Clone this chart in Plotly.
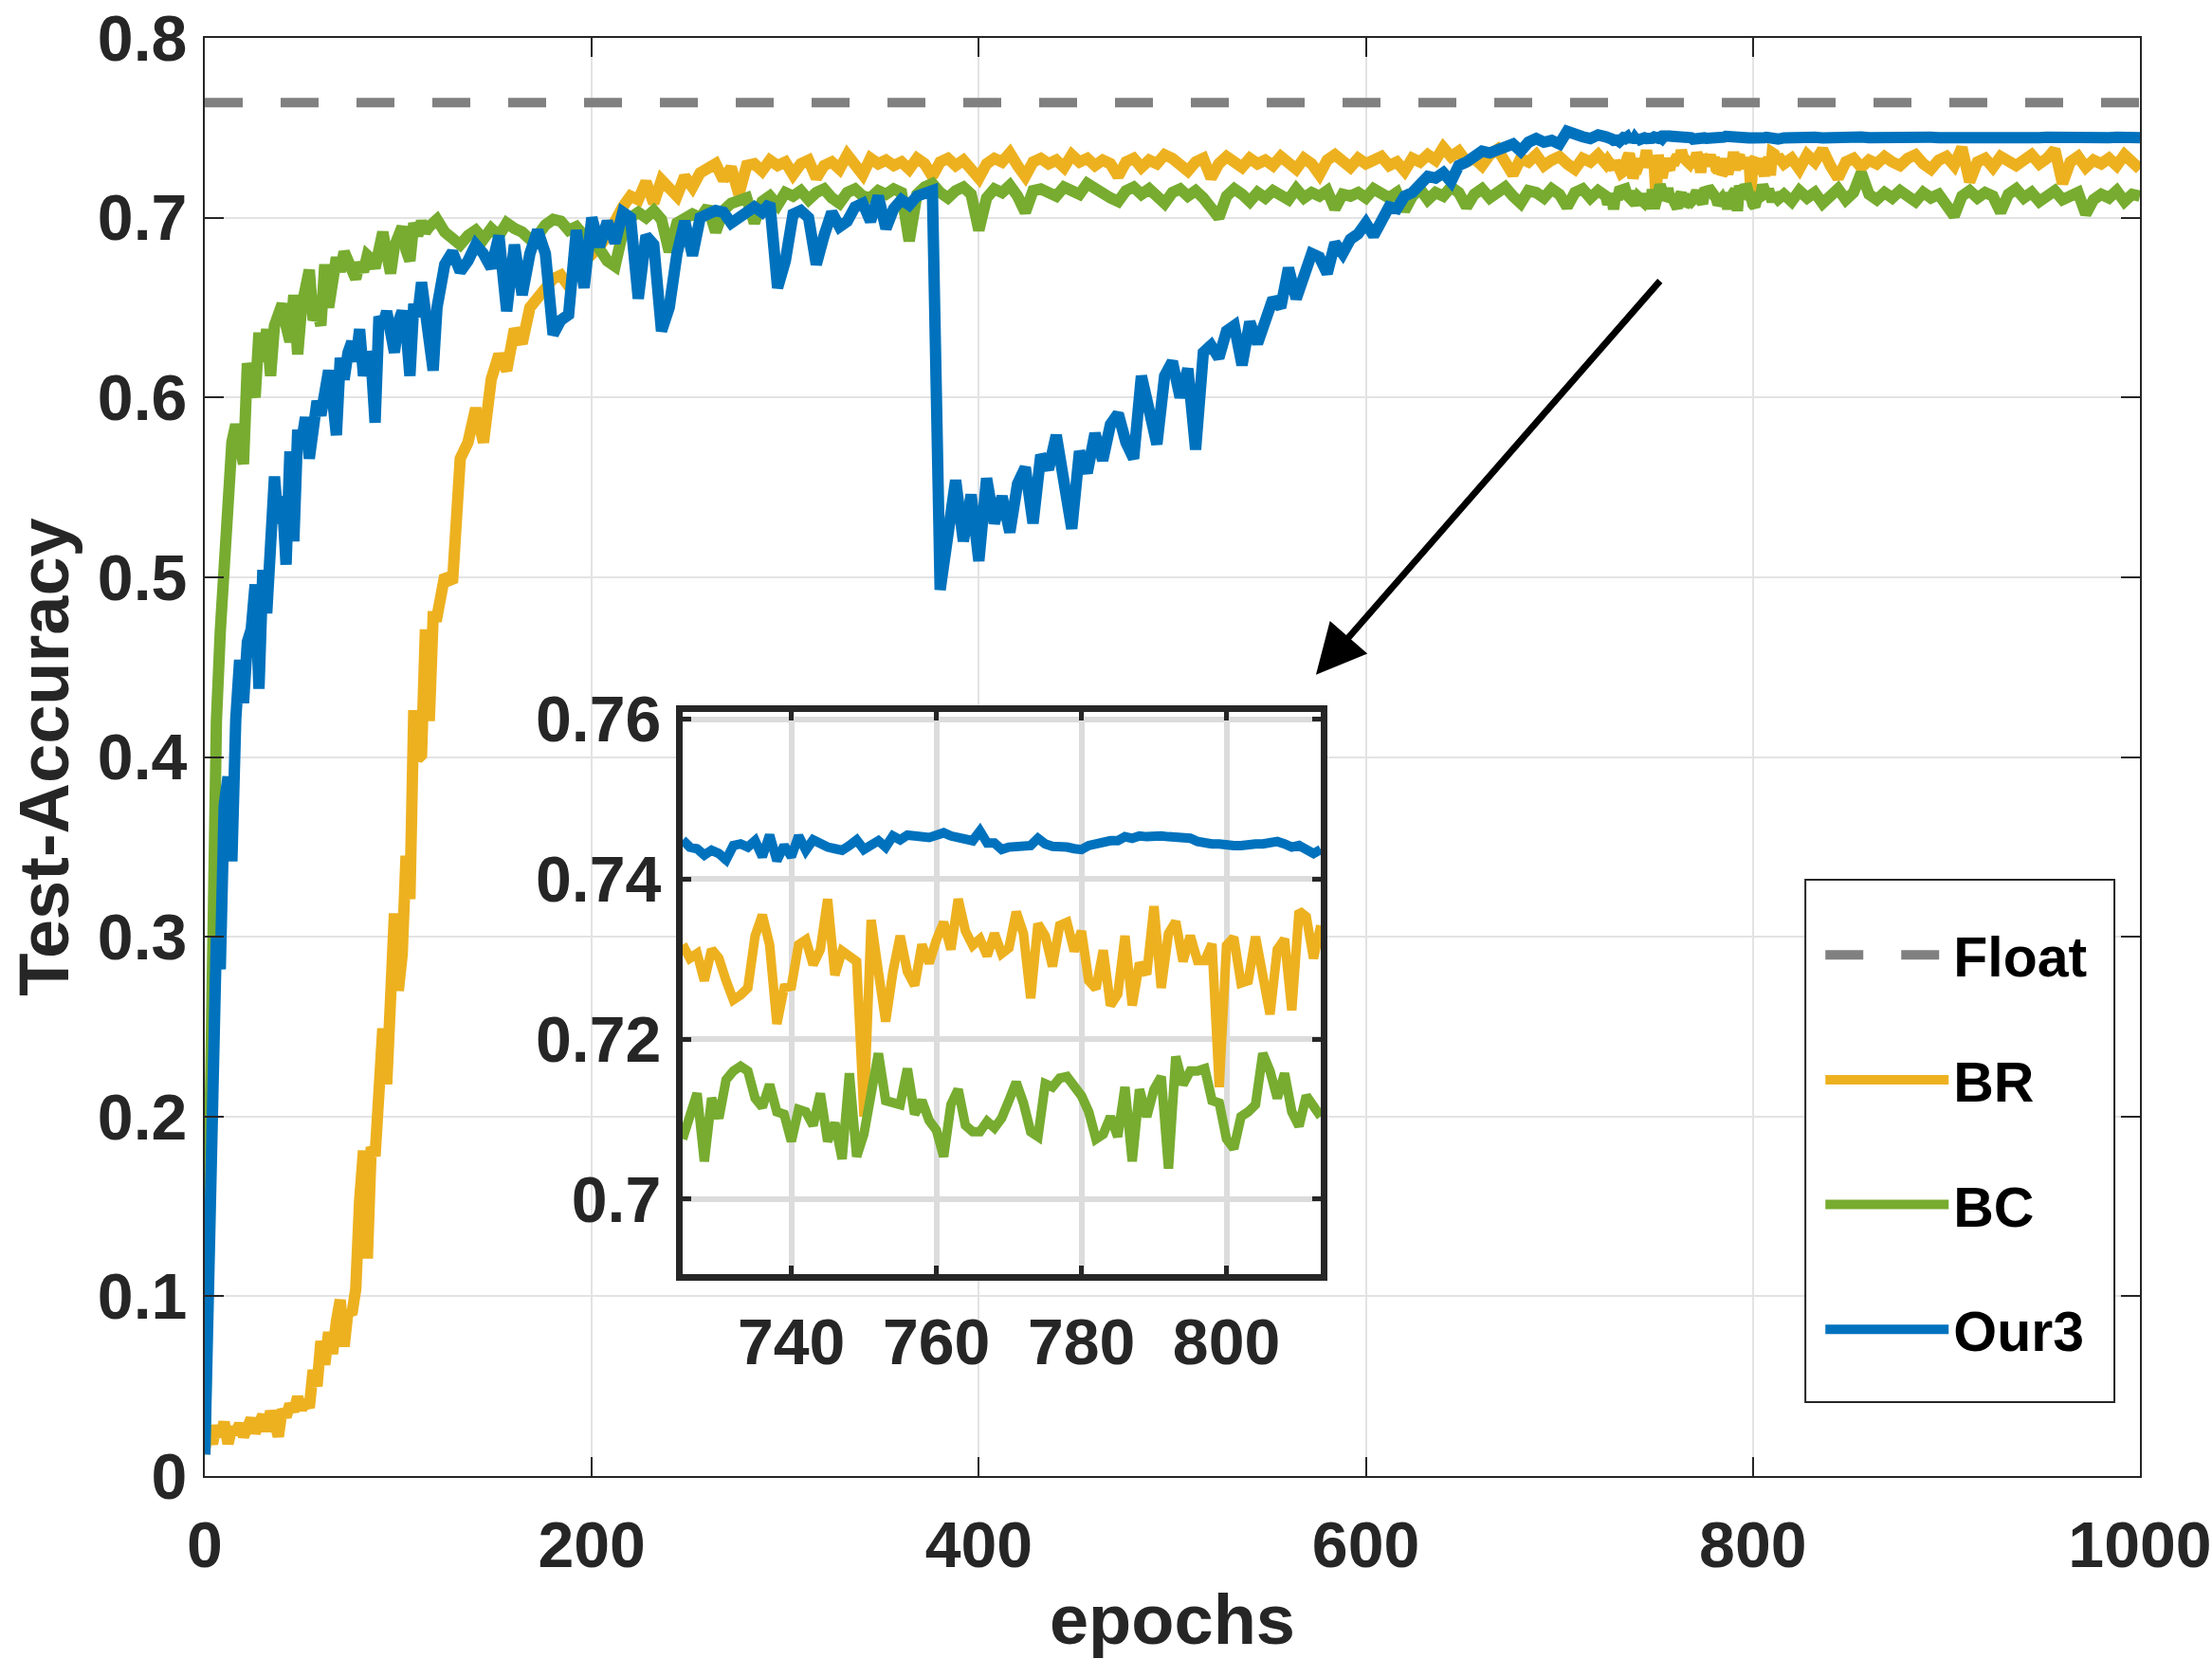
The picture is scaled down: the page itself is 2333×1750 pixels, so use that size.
import plotly.graph_objects as go

# epochs, split into stretches (the 725-813 stretch is also the zoomed window)
EPOCHS_A = list(range(0, 120, 2))
EPOCHS_B = list(range(120, 725, 4))
EPOCHS_C = list(range(725, 814))
EPOCHS_D = list(range(816, 1001, 4))

FLOAT_ACC = 0.764

# ---- BR ----
BR_A = [0.015, 0.025, 0.018, 0.028, 0.022, 0.030, 0.018, 0.027, 0.024, 0.029,
        0.022, 0.026, 0.032, 0.024, 0.028, 0.034, 0.025, 0.036, 0.030, 0.022,
        0.037, 0.033, 0.040, 0.036, 0.044, 0.037, 0.042, 0.038, 0.059, 0.050,
        0.075, 0.062, 0.080, 0.068, 0.086, 0.098, 0.072, 0.092, 0.090, 0.104,
        0.153, 0.181, 0.121, 0.183, 0.178, 0.205, 0.249, 0.218, 0.275, 0.313,
        0.270, 0.290, 0.345, 0.321, 0.426, 0.399, 0.401, 0.471, 0.420, 0.478]
BR_B = [0.478, 0.501, 0.497, 0.566, 0.575, 0.594, 0.575, 0.610, 0.624, 0.615,
        0.638, 0.630, 0.650, 0.655, 0.660, 0.666, 0.668, 0.662, 0.671, 0.675,
        0.678, 0.684, 0.690, 0.699, 0.706, 0.712, 0.710, 0.720, 0.708, 0.721,
        0.716, 0.712, 0.723, 0.717, 0.725, 0.727, 0.730, 0.721, 0.728, 0.713,
        0.729, 0.730, 0.726, 0.732, 0.729, 0.731, 0.724, 0.730, 0.732, 0.722,
        0.729, 0.731, 0.727, 0.735, 0.730, 0.724, 0.733, 0.730, 0.732, 0.729,
        0.731, 0.727, 0.733, 0.730, 0.723, 0.731, 0.733, 0.729, 0.732, 0.728,
        0.722, 0.730, 0.733, 0.731, 0.736, 0.729, 0.723, 0.731, 0.733, 0.730,
        0.732, 0.728, 0.735, 0.731, 0.733, 0.729, 0.732, 0.730, 0.723, 0.731,
        0.733, 0.728, 0.732, 0.730, 0.735, 0.733, 0.729, 0.726, 0.731, 0.733,
        0.722, 0.730, 0.734, 0.731, 0.728, 0.733, 0.730, 0.732, 0.729, 0.734,
        0.731, 0.727, 0.733, 0.730, 0.724, 0.732, 0.735, 0.731, 0.728, 0.733,
        0.730, 0.732, 0.734, 0.729, 0.731, 0.726, 0.733, 0.731, 0.735, 0.732,
        0.739, 0.734, 0.737, 0.731, 0.733, 0.729, 0.735, 0.738, 0.732, 0.724,
        0.733, 0.731, 0.735, 0.729, 0.732, 0.734, 0.730, 0.727, 0.733, 0.731,
        0.735, 0.730]
BR_C = [0.7318, 0.7301, 0.7307, 0.7273, 0.7312, 0.7301, 0.7273, 0.7249, 0.7255, 0.7264,
        0.7329, 0.7355, 0.7318, 0.7219, 0.7264, 0.7266, 0.7318, 0.7324, 0.7293, 0.7312,
        0.7375, 0.7280, 0.7310, 0.7304, 0.7297, 0.7103, 0.7349, 0.7284, 0.7222, 0.7284,
        0.7329, 0.7284, 0.7267, 0.7318, 0.7295, 0.7324, 0.7346, 0.7312, 0.7375, 0.7335,
        0.7317, 0.7325, 0.7304, 0.7332, 0.7307, 0.7314, 0.7359, 0.7332, 0.7251, 0.7344,
        0.7329, 0.7291, 0.7342, 0.7346, 0.7310, 0.7335, 0.7273, 0.7263, 0.7311, 0.7242,
        0.7256, 0.7329, 0.7242, 0.7295, 0.7281, 0.7366, 0.7264, 0.7332, 0.7347, 0.7297,
        0.7329, 0.7298, 0.7298, 0.7319, 0.7140, 0.7317, 0.7327, 0.7270, 0.7273, 0.7328,
        0.7279, 0.7231, 0.7312, 0.7325, 0.7236, 0.7360, 0.7353, 0.7301, 0.7342]
BR_D = [0.730, 0.733, 0.727, 0.735, 0.731, 0.738, 0.729, 0.722, 0.731, 0.733,
        0.728, 0.732, 0.730, 0.734, 0.731, 0.729, 0.733, 0.735, 0.730, 0.727,
        0.732, 0.734, 0.729, 0.739, 0.720, 0.731, 0.733, 0.728, 0.734, 0.731,
        0.729, 0.732, 0.735, 0.730, 0.733, 0.738, 0.719, 0.731, 0.734, 0.728,
        0.732, 0.730, 0.733, 0.729, 0.735, 0.731, 0.727]

# ---- BC ----
BC_A = [0.012, 0.160, 0.340, 0.420, 0.470, 0.510, 0.535, 0.575, 0.585, 0.570,
        0.563, 0.619, 0.612, 0.600, 0.636, 0.620, 0.638, 0.612, 0.640, 0.645,
        0.652, 0.640, 0.631, 0.657, 0.624, 0.650, 0.660, 0.671, 0.643, 0.648,
        0.640, 0.674, 0.650, 0.668, 0.678, 0.670, 0.681, 0.676, 0.672, 0.666,
        0.675, 0.670, 0.679, 0.677, 0.672, 0.685, 0.692, 0.680, 0.669, 0.684,
        0.690, 0.695, 0.682, 0.676, 0.697, 0.690, 0.698, 0.692, 0.695, 0.698]
BC_B = [0.699, 0.692, 0.688, 0.685, 0.690, 0.693, 0.688, 0.694, 0.690, 0.697,
        0.694, 0.692, 0.688, 0.690, 0.696, 0.699, 0.698, 0.693, 0.695, 0.690,
        0.689, 0.681, 0.676, 0.673, 0.692, 0.700, 0.703, 0.700, 0.704, 0.699,
        0.681, 0.697, 0.699, 0.702, 0.700, 0.706, 0.692, 0.704, 0.708, 0.710,
        0.711, 0.697, 0.709, 0.712, 0.707, 0.714, 0.712, 0.715, 0.710, 0.714,
        0.716, 0.711, 0.708, 0.714, 0.716, 0.712, 0.711, 0.715, 0.713, 0.716,
        0.714, 0.687, 0.713, 0.717, 0.719, 0.714, 0.711, 0.715, 0.717, 0.713,
        0.693, 0.711, 0.716, 0.714, 0.718, 0.712, 0.703, 0.715, 0.716, 0.714,
        0.712, 0.717, 0.715, 0.713, 0.719, 0.716, 0.714, 0.711, 0.709, 0.715,
        0.717, 0.713, 0.716, 0.712, 0.708, 0.714, 0.716, 0.712, 0.715, 0.711,
        0.706, 0.700, 0.712, 0.716, 0.713, 0.709, 0.714, 0.711, 0.715, 0.713,
        0.710, 0.716, 0.711, 0.714, 0.712, 0.715, 0.705, 0.713, 0.712, 0.714,
        0.711, 0.716, 0.713, 0.711, 0.714, 0.704, 0.712, 0.716, 0.710, 0.714,
        0.712, 0.717, 0.714, 0.706, 0.713, 0.716, 0.711, 0.714, 0.717, 0.712,
        0.708, 0.715, 0.714, 0.711, 0.716, 0.713, 0.706, 0.714, 0.716, 0.711,
        0.715, 0.712]
BC_C = [0.7075, 0.7103, 0.7132, 0.7047, 0.7126, 0.7101, 0.7149, 0.7160, 0.7166, 0.7160,
        0.7126, 0.7115, 0.7143, 0.7109, 0.7106, 0.7072, 0.7112, 0.7109, 0.7092, 0.7132,
        0.7072, 0.7095, 0.7050, 0.7157, 0.7053, 0.7081, 0.7132, 0.7182, 0.7123, 0.7121,
        0.7118, 0.7163, 0.7106, 0.7123, 0.7098, 0.7086, 0.7053, 0.7118, 0.7137, 0.7092,
        0.7084, 0.7084, 0.7097, 0.7089, 0.7101, 0.7123, 0.7146, 0.7120, 0.7084, 0.7078,
        0.7144, 0.7140, 0.7151, 0.7153, 0.7140, 0.7129, 0.7109, 0.7075, 0.7081, 0.7103,
        0.7078, 0.7140, 0.7047, 0.7137, 0.7103, 0.7137, 0.7153, 0.7038, 0.7178, 0.7143,
        0.7160, 0.7160, 0.7163, 0.7123, 0.7120, 0.7075, 0.7063, 0.7103, 0.7109, 0.7118,
        0.7182, 0.7160, 0.7126, 0.7157, 0.7109, 0.7091, 0.7129, 0.7118, 0.7103]
BC_D = [0.713, 0.709, 0.715, 0.711, 0.714, 0.708, 0.712, 0.716, 0.710, 0.714,
        0.725, 0.713, 0.710, 0.714, 0.711, 0.715, 0.712, 0.709, 0.714, 0.711,
        0.713, 0.707, 0.701, 0.712, 0.715, 0.711, 0.714, 0.712, 0.703, 0.713,
        0.716, 0.711, 0.714, 0.709, 0.713, 0.715, 0.710, 0.712, 0.714, 0.702,
        0.710, 0.713, 0.711, 0.715, 0.709, 0.713, 0.712]

# ---- Our3 ----
OUR3_A = [0.012, 0.110, 0.210, 0.300, 0.282, 0.373, 0.389, 0.342, 0.421, 0.454,
          0.430, 0.464, 0.471, 0.496, 0.438, 0.504, 0.480, 0.530, 0.556, 0.530,
          0.545, 0.507, 0.570, 0.520, 0.582, 0.575, 0.589, 0.566, 0.580, 0.598,
          0.590, 0.603, 0.615, 0.600, 0.579, 0.622, 0.610, 0.625, 0.631, 0.620,
          0.638, 0.612, 0.625, 0.620, 0.586, 0.645, 0.640, 0.648, 0.635, 0.625,
          0.642, 0.648, 0.638, 0.612, 0.652, 0.645, 0.664, 0.650, 0.630, 0.615]
OUR3_B = [0.650, 0.674, 0.681, 0.670, 0.676, 0.685, 0.680, 0.672, 0.690, 0.648,
          0.685, 0.657, 0.680, 0.693, 0.680, 0.635, 0.643, 0.646, 0.693, 0.661,
          0.700, 0.684, 0.698, 0.686, 0.703, 0.700, 0.655, 0.690, 0.685, 0.637,
          0.650, 0.680, 0.698, 0.679, 0.700, 0.702, 0.704, 0.703, 0.697, 0.700,
          0.704, 0.706, 0.703, 0.708, 0.661, 0.676, 0.702, 0.704, 0.700, 0.674,
          0.690, 0.703, 0.695, 0.698, 0.706, 0.708, 0.698, 0.712, 0.694, 0.705,
          0.710, 0.707, 0.712, 0.714, 0.715, 0.493, 0.530, 0.554, 0.520, 0.546,
          0.509, 0.555, 0.530, 0.545, 0.525, 0.552, 0.561, 0.530, 0.568, 0.560,
          0.579, 0.552, 0.527, 0.570, 0.558, 0.580, 0.565, 0.585, 0.591, 0.575,
          0.566, 0.612, 0.590, 0.574, 0.612, 0.620, 0.600, 0.616, 0.571, 0.625,
          0.629, 0.622, 0.637, 0.640, 0.618, 0.642, 0.630, 0.645, 0.655, 0.650,
          0.672, 0.655, 0.668, 0.680, 0.678, 0.669, 0.686, 0.680, 0.688, 0.691,
          0.697, 0.690, 0.698, 0.706, 0.705, 0.712, 0.714, 0.718, 0.723, 0.722,
          0.725, 0.720, 0.729, 0.731, 0.734, 0.737, 0.736, 0.738, 0.740, 0.741,
          0.737, 0.742, 0.744, 0.742, 0.743, 0.741, 0.748, 0.746, 0.745, 0.744,
          0.746, 0.745]
OUR3_C = [0.7449, 0.7440, 0.7438, 0.7430, 0.7436, 0.7432, 0.7424, 0.7442, 0.7444, 0.7440,
          0.7448, 0.7428, 0.7455, 0.7423, 0.7442, 0.7428, 0.7454, 0.7436, 0.7449, 0.7444,
          0.7440, 0.7438, 0.7436, 0.7442, 0.7449, 0.7437, 0.7442, 0.7448, 0.7440, 0.7454,
          0.7449, 0.7455, 0.7454, 0.7453, 0.7452, 0.7455, 0.7458, 0.7454, 0.7451, 0.7449,
          0.7448, 0.7460, 0.7445, 0.7445, 0.7437, 0.7440, 0.7440, 0.7442, 0.7442, 0.7451,
          0.7444, 0.7441, 0.7441, 0.7440, 0.7438, 0.7437, 0.7442, 0.7445, 0.7447, 0.7448,
          0.7448, 0.7453, 0.7451, 0.7454, 0.7453, 0.7455, 0.7454, 0.7453, 0.7452, 0.7451,
          0.7451, 0.7447, 0.7444, 0.7444, 0.7444, 0.7442, 0.7442, 0.7442, 0.7444, 0.7444,
          0.7444, 0.7445, 0.7447, 0.7444, 0.7440, 0.7442, 0.7437, 0.7432, 0.7437]
OUR3_D = [0.7444, 0.7448, 0.7446, 0.7450, 0.7447, 0.7444, 0.7448, 0.7445, 0.7443, 0.7446,
          0.7449, 0.7445, 0.7447, 0.7444, 0.7446, 0.7448, 0.7445, 0.7443, 0.7446, 0.7448,
          0.7445, 0.7444, 0.7447, 0.7445, 0.7443, 0.7446, 0.7448, 0.7445, 0.7444, 0.7446,
          0.7449, 0.7446, 0.7444, 0.7445, 0.7447, 0.7445, 0.7443, 0.7446, 0.7448, 0.7445,
          0.7444, 0.7446, 0.7445, 0.7447, 0.7444, 0.7446, 0.7445]

EPOCHS = EPOCHS_A + EPOCHS_B + EPOCHS_C + EPOCHS_D

series = [
    ("BR", "#EDB120", BR_A + BR_B + BR_C + BR_D, BR_C),
    ("BC", "#77AC30", BC_A + BC_B + BC_C + BC_D, BC_C),
    ("Our3", "#0072BD", OUR3_A + OUR3_B + OUR3_C + OUR3_D, OUR3_C),
]
for name, _, vals, zoom_vals in series:
    assert len(vals) == len(EPOCHS), (name, len(vals), len(EPOCHS))
    assert len(zoom_vals) == len(EPOCHS_C), name

FONT = "Liberation Sans, Arial, Helvetica, sans-serif"
AX = "#262626"

fig = go.Figure()

fig.add_trace(go.Scatter(
    x=[EPOCHS[0], EPOCHS[-1]], y=[FLOAT_ACC, FLOAT_ACC], mode="lines", name="Float",
    line=dict(color="#808080", width=10, dash="40px,40px"), legendgroup="float"
))
for name, color, vals, _ in series:
    fig.add_trace(go.Scatter(
        x=EPOCHS, y=vals, mode="lines", name=name,
        line=dict(color=color, width=12), legendgroup=name
    ))

# zoomed window
for name, color, _, zoom_vals in series:
    fig.add_trace(go.Scatter(
        x=EPOCHS_C, y=zoom_vals, mode="lines", name=name, showlegend=False,
        line=dict(color=color, width=10), xaxis="x2", yaxis="y2"
    ))

tickfont = dict(family=FONT, size=68, weight="bold", color=AX)
titlefont = dict(family=FONT, size=74, weight="bold", color=AX)
main_axis = dict(
    showline=True, linewidth=2, linecolor=AX, mirror="ticks",
    ticks="inside", ticklen=20, tickwidth=2, tickcolor=AX,
    showgrid=True, gridcolor="#e3e3e3", gridwidth=2, zeroline=False,
    tickfont=tickfont, automargin=False,
)
inset_axis = dict(
    showline=True, linewidth=7, linecolor=AX, mirror="ticks",
    ticks="inside", ticklen=9, tickwidth=5, tickcolor=AX,
    showgrid=True, gridcolor="#dcdcdc", gridwidth=6, zeroline=False,
    tickfont=tickfont, automargin=False,
)

fig.update_layout(
    width=2333, height=1750, autosize=False,
    margin=dict(l=216, r=76, t=40, b=193),
    paper_bgcolor="white", plot_bgcolor="white",
    xaxis=dict(main_axis, range=[0, 1000], tickvals=[0, 200, 400, 600, 800, 1000],
               ticklabelstandoff=12,
               title=dict(text="epochs", standoff=26, font=titlefont)),
    yaxis=dict(main_axis, range=[0, 0.8], tickvals=[0, 0.1, 0.2, 0.3, 0.4, 0.5, 0.6, 0.7, 0.8],
               ticktext=["0", "0.1", "0.2", "0.3", "0.4", "0.5", "0.6", "0.7", "0.8"],
               ticklabelstandoff=3,
               title=dict(text="Test-Accuracy", standoff=6, font=titlefont)),
    xaxis2=dict(inset_axis, domain=[0.2469, 0.5767], anchor="y2", range=[725, 813],
                tickvals=[740, 760, 780, 800], ticklabelstandoff=6),
    yaxis2=dict(inset_axis, domain=[0.1404, 0.5313], anchor="x2", range=[0.6906, 0.7609],
                tickvals=[0.70, 0.72, 0.74, 0.76], ticktext=["0.7", "0.72", "0.74", "0.76"],
                ticklabelstandoff=2),
    legend=dict(
        x=0.835, y=0.392, xanchor="left", yanchor="top",
        font=dict(family=FONT, size=59, weight="bold", color="black"),
        bgcolor="rgba(0,0,0,0)", borderwidth=0,
        tracegroupgap=52, itemwidth=130,
    ),
    shapes=[dict(
        type="rect", xref="paper", yref="paper",
        x0=0.8271, x1=0.9868, y0=0.0514, y1=0.4146,
        line=dict(color=AX, width=2), fillcolor="white", layer="above",
    )],
    annotations=[dict(
        x=574.2, y=0.4457, xref="x", yref="y",
        ax=752.6, ay=0.6656, axref="x", ayref="y",
        text="", showarrow=True, arrowhead=2, arrowsize=1.5,
        arrowwidth=7, arrowcolor="black",
    )],
)

# drop the browser's default page margin so the figure sits at the window corner
fig.write_html("out.html", config={"displayModeBar": False},
               post_script="document.body.style.margin = '0px';")
